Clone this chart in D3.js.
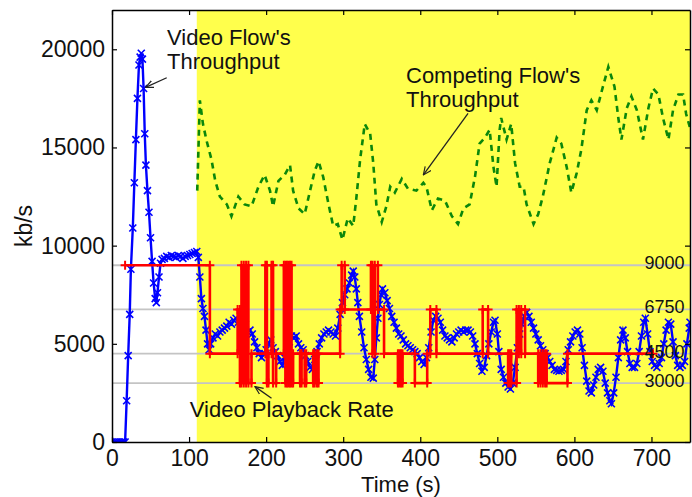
<!DOCTYPE html>
<html>
<head>
<meta charset="utf-8">
<script src="https://cdn.jsdelivr.net/npm/d3@7"></script>
<style>
body { margin: 0; background: #fff; }
svg { display: block; font-family: "Liberation Sans", Arial, Helvetica, sans-serif; }
</style>
</head>
<body>
<svg class="chart" width="692" height="497"></svg>
<script>
// video flow's throughput, [time (s), kb/s]
const videoFlow = [
  [0,0],[3,0],[6,0],[9,0],[12,0],[15,0],[17,0],[19,2100],[21,4400],[23,6500],[24.5,8800],
  [27,10900],[29,13200],[31,15400],[33,17500],[35,19200],[36.5,19600],[38,19800],[39.5,19500],
  [41,18000],[42.5,15700],[44,14100],[46,12800],[48,11700],[50,10400],[52,9200],[54,8100],
  [56,7300],[57.5,7100],[59,7600],[61,8400],[63,9100],[65,9300],[68,9350],[71,9450],[74,9400],
  [77,9500],[80,9450],[83,9400],[86,9500],[89,9450],[92,9350],[95,9450],[98,9500],[101,9550],
  [104,9600],[107,9650],[110,9700],[112,9400],[114,8400],[116,7300],[118,6800],[120,6400],
  [122,5700],[124,5000],[126,4700],[128,5000],[131,5300],[134,5500],[137,5400],[140,5600],
  [143,5700],[146,5800],[149,5900],[152,6100],[155,6000],[158,6200],[161,6300],[164,6100],
  [167,6200],[170,5800],[173,6000],[176,5600],[179,5700],[182,5500],[185,5100],[188,4800],
  [191,4500],[194,4300],[197,4500],[200,4700],[203,5000],[206,5200],[209,4800],[212,4600],
  [215,4400],[218,4100],[221,3900],[224,4300],[227,4700],[230,5100],[233,5400],[236,5300],
  [239,5400],[242,5000],[245,4800],[248,4700],[251,4400],[254,4100],[257,3800],[260,3700],
  [263,4200],[266,4600],[269,5000],[272,5300],[275,5500],[278,5600],[281,5700],[284,5600],
  [287,5500],[290,5400],[293,5800],[296,6500],[299,7100],[302,7500],[305,7800],[308,8100],
  [311,8500],[313,8700],[315,8400],[317,7800],[319,7100],[321,6400],[324,5600],[327,4800],
  [330,4200],[333,3700],[336,3300],[339,3250],[341,4200],[343,5300],[345,6300],[347,7000],
  [349,7500],[351,7800],[354,7600],[357,7200],[360,6800],[363,6400],[366,6100],[369,5800],
  [372,5500],[375,5400],[378,5200],[381,5000],[384,4900],[387,4800],[390,4700],[393,4600],
  [396,4500],[399,4300],[402,4100],[405,3950],[408,4300],[411,4800],[414,5600],[417,6200],
  [420,6400],[423,6300],[426,6100],[429,5700],[432,5400],[435,5300],[438,5200],[441,5100],
  [444,5300],[447,5500],[450,5600],[453,5700],[456,5600],[459,5700],[462,5700],[465,5600],
  [468,5400],[471,5000],[474,4500],[477,4000],[480,3600],[483,3800],[486,4400],[489,5000],
  [492,5600],[495,6100],[497,6200],[500,5500],[502,4600],[505,3700],[508,3300],[511,3000],
  [514,2800],[517,2700],[520,3000],[523,3800],[526,4800],[529,5500],[532,6000],[535,6400],
  [538,6600],[541,6400],[544,6100],[547,5800],[550,5500],[553,5200],[556,4900],[559,4700],
  [562,4500],[565,4300],[568,4100],[571,3900],[574,3700],[577,3650],[580,3600],[583,3650],
  [586,3700],[589,4100],[592,4700],[595,5100],[598,5400],[601,5600],[604,5700],[607,5500],
  [610,4800],[613,3900],[616,3100],[619,2600],[622,2500],[625,2900],[628,3300],[631,3700],
  [634,3800],[637,3600],[640,3000],[643,2500],[646,2100],[648,1950],[651,2500],[654,3300],
  [657,4300],[660,5200],[663,5700],[666,5300],[669,4600],[672,4000],[675,3800],[678,3800],
  [681,4000],[684,4600],[687,5400],[690,6100],[692,6300],[695,5500],[698,4600],[701,4100],
  [704,3900],[707,3800],[710,4000],[713,4300],[716,5000],[719,5700],[722,6100],[725,6000],
  [728,5100],[731,4400],[734,3900],[737,3800],[740,3900],[743,4100],[746,5000],[749,5800],
  [750,6100]
];

// competing flow's throughput, [time (s), kb/s]
const competingFlow = [
  [110.6,12800],[114,17400],[118,16200],[123,15300],[129,14400],[134,13300],[140,12500],
  [149,12100],[155,11500],[164,12500],[172,12100],[181,12000],[190,13000],[198,13600],
  [205,12800],[209,12000],[216,13300],[224,13600],[231,14100],[235,12800],[242,11900],
  [250,11600],[257,12800],[263,13800],[268,14300],[274,13500],[281,12100],[287,11000],
  [293,11100],[299,10300],[306,11400],[313,11000],[317,12400],[322,14400],[328,16200],
  [335,15700],[339,14200],[343,12100],[350,11200],[356,12000],[361,13000],[367,12700],
  [376,13400],[384,12900],[395,12800],[404,13200],[408,13000],[415,11800],[423,12400],
  [432,12300],[441,11500],[449,11100],[456,11900],[464,12100],[471,13500],[477,15200],
  [484,15500],[490,15900],[495,14000],[499,13000],[503,15900],[505,16500],[512,15400],
  [518,16200],[523,14200],[529,13000],[534,13000],[538,12100],[547,11100],[553,11600],
  [559,12500],[568,14200],[577,15500],[583,15200],[590,14000],[596,12700],[603,13700],
  [609,14900],[616,16900],[622,17400],[629,16900],[637,18100],[644,19100],[652,18100],
  [657,16500],[661,15400],[668,17000],[674,17600],[681,16900],[689,15400],[696,17000],
  [702,18000],[709,17700],[715,16500],[722,15400],[728,16900],[735,17700],[741,17700],
  [745,16700],[750,16000]
];

// video playback rate: [switch time (s), new rate kb/s]
const playbackRate = [
  [17,9000],[127,4500],[163,6750],[166,3000],[168,9000],[171,3000],[174,9000],[177,3000],
  [181,4500],[199,9000],[201,3000],[203,4500],[207,9000],[209,3000],[213,4500],[223,9000],
  [225,3000],[227,9000],[229,3000],[231,9000],[233,3000],[235,4500],[244,3000],[246,4500],
  [250,3000],[252,4500],[261,3000],[263,4500],[266,3000],[268,4500],[296,6750],[298,9000],
  [302,6750],[336,9000],[338,4500],[341,9000],[345,6750],[353,4500],[371,3000],[373,4500],
  [375,3000],[377,4500],[393,3000],[409,4500],[413,6750],[421,4500],[481,6750],[488,4500],
  [514,3000],[516,4500],[518,3000],[525,6750],[528,4500],[531,6750],[536,4500],[553,3000],
  [556,4500],[559,3000],[562,4500],[564,3000],[591,4500]
];
const playbackEnd = 702;

const encodingRates = [9000, 6750, 4500, 3000];
const timeTicks = [0, 100, 200, 300, 400, 500, 600, 700];
const rateTicks = [0, 5000, 10000, 15000, 20000];
const competingStart = 110;

const svg = d3.select('.chart');
const x = d3.scaleLinear().domain([0, 750]).range([112, 690]);
const y = d3.scaleLinear().domain([0, 22000]).range([442, 10]);

svg.append('defs').append('clipPath').attr('id', 'plot')
  .append('rect')
    .attr('x', x(0)).attr('y', y(22000))
    .attr('width', x(750) - x(0)).attr('height', y(0) - y(22000));

svg.select('defs').append('marker')
    .attr('id', 'arrow')
    .attr('viewBox', '0 0 10 10')
    .attr('refX', 9).attr('refY', 5)
    .attr('markerWidth', 9).attr('markerHeight', 9)
    .attr('markerUnits', 'userSpaceOnUse')
    .attr('orient', 'auto')
  .append('path')
    .attr('d', 'M0,1L9,5L0,9')
    .attr('fill', 'none')
    .attr('stroke', '#222')
    .attr('stroke-width', 1.3);

// shaded period where the competing flow is active
svg.append('rect')
  .attr('x', x(competingStart)).attr('y', y(22000))
  .attr('width', x(750) - x(competingStart)).attr('height', y(0) - y(22000))
  .attr('fill', '#ffff4c');

// available encoding rates
svg.append('g').selectAll('line')
  .data(encodingRates)
  .enter().append('line')
    .attr('x1', x(0)).attr('x2', x(750))
    .attr('y1', d => y(d)).attr('y2', d => y(d))
    .attr('stroke', '#c4c4c4')
    .attr('stroke-width', 1.8);

const g = svg.append('g').attr('clip-path', 'url(#plot)');

const line = d3.line().x(d => x(d[0])).y(d => y(d[1]));

g.append('path')
  .attr('d', line(competingFlow))
  .attr('fill', 'none')
  .attr('stroke', '#0b870b')
  .attr('stroke-width', 2.6)
  .attr('stroke-dasharray', '6,5');

g.append('path')
  .attr('d', line(videoFlow))
  .attr('fill', 'none')
  .attr('stroke', '#0000ff')
  .attr('stroke-width', 2.4);

g.append('g').selectAll('path')
  .data(videoFlow)
  .enter().append('path')
    .attr('transform', d => `translate(${x(d[0])},${y(d[1])})`)
    .attr('d', 'M-3.5,-3.5L3.5,3.5M-3.5,3.5L3.5,-3.5')
    .attr('stroke', '#0000ff')
    .attr('stroke-width', 1.6);

const rateSteps = playbackRate.concat([[playbackEnd, playbackRate[playbackRate.length - 1][1]]]);
g.append('path')
  .attr('d', line.curve(d3.curveStepAfter)(rateSteps))
  .attr('fill', 'none')
  .attr('stroke', '#ff0000')
  .attr('stroke-width', 2.6);

// corners of the step line
const corners = [];
rateSteps.forEach((d, i) => {
  if (i > 0) corners.push([d[0], rateSteps[i - 1][1]]);
  if (i < rateSteps.length - 1) corners.push(d);
});
g.append('g').selectAll('path')
  .data(corners)
  .enter().append('path')
    .attr('transform', d => `translate(${x(d[0])},${y(d[1])})`)
    .attr('d', 'M-4.5,0L4.5,0M0,-4.5L0,4.5')
    .attr('stroke', '#ff0000')
    .attr('stroke-width', 2);

// level labels on the right
svg.append('g').selectAll('text')
  .data(encodingRates)
  .enter().append('text')
    .attr('x', x(691))
    .attr('y', d => y(d) + 4)
    .attr('font-size', 18)
    .attr('fill', '#111')
    .text(d => d);

// axes
const axisFont = sel => sel.selectAll('text').attr('font-size', 23).attr('font-family', null).attr('fill', '#111');

svg.append('g')
  .attr('transform', `translate(0,${y(0)})`)
  .call(d3.axisBottom(x).tickValues(timeTicks).tickSizeInner(-5).tickSizeOuter(0).tickPadding(8))
  .call(axisFont);
svg.append('g')
  .attr('transform', `translate(0,${y(22000)})`)
  .call(d3.axisTop(x).tickValues(timeTicks).tickSizeInner(-5).tickSizeOuter(0).tickFormat(''));
svg.append('g')
  .attr('transform', `translate(${x(0)},0)`)
  .call(d3.axisLeft(y).tickValues(rateTicks).tickFormat(d3.format('d')).tickSizeInner(-5).tickSizeOuter(0).tickPadding(7))
  .call(axisFont);
svg.append('g')
  .attr('transform', `translate(${x(750)},0)`)
  .call(d3.axisRight(y).tickValues(rateTicks).tickSizeInner(-5).tickSizeOuter(0).tickFormat(''));

svg.selectAll('.domain').attr('stroke', '#000').attr('stroke-width', 1.5);
svg.selectAll('.tick line').attr('stroke', '#000').attr('stroke-width', 1.2);

svg.append('text')
  .attr('transform', `translate(32,${(y(0) + y(22000)) / 2}) rotate(-90)`)
  .attr('text-anchor', 'middle')
  .attr('font-size', 23)
  .attr('fill', '#111')
  .text('kb/s');

svg.append('text')
  .attr('x', (x(0) + x(750)) / 2)
  .attr('y', 492)
  .attr('text-anchor', 'middle')
  .attr('font-size', 22)
  .attr('fill', '#111')
  .text('Time (s)');

// annotations
const note = (t, v, lines) => {
  const txt = svg.append('text')
    .attr('x', x(t)).attr('y', y(v))
    .attr('font-size', 22)
    .attr('fill', '#111');
  lines.forEach((s, i) => {
    txt.append('tspan').attr('x', x(t)).attr('dy', i ? 24 : 0).text(s);
  });
};
const arrow = (t1, v1, t2, v2) => {
  svg.append('line')
    .attr('x1', x(t1)).attr('y1', y(v1))
    .attr('x2', x(t2)).attr('y2', y(v2))
    .attr('stroke', '#222')
    .attr('stroke-width', 1.3)
    .attr('marker-end', 'url(#arrow)');
};

note(71.4, 20220, ["Video Flow's", 'Throughput']);
arrow(71, 18550, 43.5, 18060);

note(381.5, 18280, ["Competing Flow's", 'Throughput']);
arrow(462, 16740, 404, 13600);

note(101, 1290, ['Video Playback Rate']);
arrow(207, 2230, 185.5, 2820);
</script>
</body>
</html>
